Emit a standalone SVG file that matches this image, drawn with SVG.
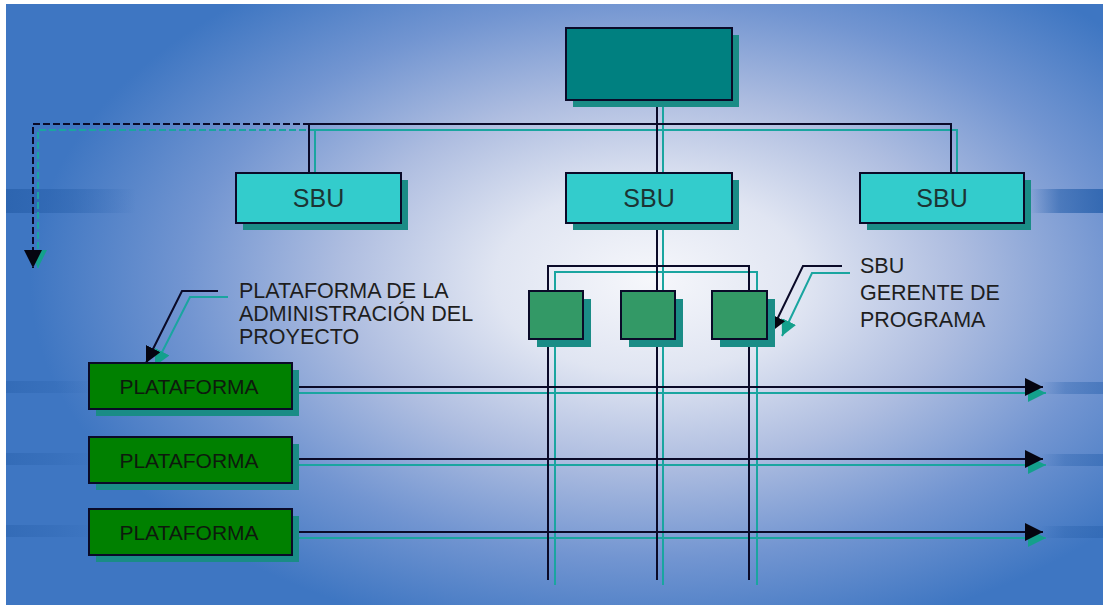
<svg xmlns="http://www.w3.org/2000/svg" width="1103" height="605" viewBox="0 0 1103 605">
  <defs>
    <radialGradient id="bg" cx="650" cy="280" r="620" gradientUnits="userSpaceOnUse" gradientTransform="translate(650 280) scale(1 0.6) translate(-650 -280)">
      <stop offset="0" stop-color="#f6f7fb"/>
      <stop offset="0.25" stop-color="#e0e5f2"/>
      <stop offset="0.5" stop-color="#aebde0"/>
      <stop offset="0.75" stop-color="#7295d1"/>
      <stop offset="1" stop-color="#3e76c2"/>
    </radialGradient>
    <linearGradient id="band" x1="0" y1="0" x2="1" y2="0">
      <stop offset="0" stop-color="#2a62ad" stop-opacity="0.85"/>
      <stop offset="0.5" stop-color="#2a62ad" stop-opacity="0.5"/>
      <stop offset="1" stop-color="#2a62ad" stop-opacity="0"/>
    </linearGradient>
    <linearGradient id="bandR" x1="1" y1="0" x2="0" y2="0">
      <stop offset="0" stop-color="#2a62ad" stop-opacity="0.85"/>
      <stop offset="0.6" stop-color="#2a62ad" stop-opacity="0.6"/>
      <stop offset="1" stop-color="#2a62ad" stop-opacity="0"/>
    </linearGradient>
    <marker id="ah" markerUnits="userSpaceOnUse" markerWidth="18" markerHeight="18" refX="18" refY="9" orient="auto">
      <path d="M0,0 L18,9 L0,18 z" fill="#050510"/>
    </marker>
    <marker id="ahs" markerUnits="userSpaceOnUse" markerWidth="18" markerHeight="18" refX="18" refY="9" orient="auto">
      <path d="M0,0 L18,9 L0,18 z" fill="#14a08c"/>
    </marker>
    <marker id="ahc" markerUnits="userSpaceOnUse" markerWidth="16" markerHeight="16" refX="16" refY="8" orient="auto">
      <path d="M0,0 L16,8 L0,16 z" fill="#050510"/>
    </marker>
    <marker id="ahcs" markerUnits="userSpaceOnUse" markerWidth="16" markerHeight="16" refX="16" refY="8" orient="auto">
      <path d="M0,0 L16,8 L0,16 z" fill="#14a08c"/>
    </marker>
  </defs>
  <style>
    .ln { fill: none; stroke: #0a0a28; stroke-width: 2; }
    .sh { fill: none; stroke: #1aa5a0; stroke-width: 2; }
    .dash { stroke-dasharray: 7 3; }
    .top { fill: #008080; stroke: #0a0a28; stroke-width: 2; }
    .sbu { fill: #33cccc; stroke: #0a0a28; stroke-width: 2; }
    .sm { fill: #339966; stroke: #0a0a28; stroke-width: 2; }
    .pl { fill: #008000; stroke: #0a0a28; stroke-width: 2; }
    .shd { fill: #1a8c86; }
    .t { font-family: "Liberation Sans", Arial, sans-serif; fill: #1e1e1e; }
    .tb { font-size: 25px; text-anchor: middle; fill: #1c3434; }
    .tp { font-size: 21px; text-anchor: middle; fill: #0d1a0d; }
    .tc { font-size: 21.5px; }
  </style>

  <rect x="0" y="0" width="1103" height="605" fill="#ffffff"/>
  <rect x="6" y="4" width="1097" height="601" fill="url(#bg)"/>
  <g id="bands">
    <rect x="6" y="189" width="130" height="24" fill="url(#band)"/>
    <rect x="1030" y="189" width="73" height="24" fill="url(#bandR)"/>
    <rect x="6" y="381" width="90" height="12" fill="url(#band)" opacity="0.6"/>
    <rect x="6" y="453" width="90" height="12" fill="url(#band)" opacity="0.6"/>
    <rect x="6" y="525" width="90" height="12" fill="url(#band)" opacity="0.6"/>
    <rect x="1040" y="382" width="63" height="12" fill="url(#bandR)" opacity="0.6"/>
    <rect x="1040" y="454" width="63" height="12" fill="url(#bandR)" opacity="0.6"/>
    <rect x="1040" y="526" width="63" height="12" fill="url(#bandR)" opacity="0.6"/>
  </g>

  <g id="connectors">
    <!-- shadows -->
    <polyline class="sh dash" points="316,130 38,130 38,268" marker-end="url(#ahs)"/>
    <polyline class="sh" points="315,180 315,130 957,130 957,180"/>
    <line class="sh" x1="663" y1="100" x2="663" y2="585"/>
    <polyline class="sh" points="555,295 555,272 757,272 757,295"/>
    <line class="sh" x1="555" y1="339" x2="555" y2="585"/>
    <line class="sh" x1="757" y1="339" x2="757" y2="585"/>
    <line class="sh" x1="298" y1="393" x2="1046" y2="393" marker-end="url(#ahs)"/>
    <line class="sh" x1="298" y1="465" x2="1046" y2="465" marker-end="url(#ahs)"/>
    <line class="sh" x1="298" y1="538" x2="1046" y2="538" marker-end="url(#ahs)"/>
    <polyline class="sh" points="228,297 190,297 155,366" marker-end="url(#ahcs)"/>
    <polyline class="sh" points="850,273 812,273 782,336" marker-end="url(#ahcs)"/>
    <!-- main lines -->
    <polyline class="ln dash" points="310,124 33,124 33,268" marker-end="url(#ah)"/>
    <polyline class="ln" points="309,173 309,124 951,124 951,173"/>
    <line class="ln" x1="657" y1="100" x2="657" y2="580"/>
    <polyline class="ln" points="548,291 548,266 749,266 749,291"/>
    <line class="ln" x1="548" y1="339" x2="548" y2="580"/>
    <line class="ln" x1="749" y1="339" x2="749" y2="580"/>
    <line class="ln" x1="292" y1="387" x2="1043" y2="387" marker-end="url(#ah)"/>
    <line class="ln" x1="292" y1="459" x2="1043" y2="459" marker-end="url(#ah)"/>
    <line class="ln" x1="292" y1="532" x2="1043" y2="532" marker-end="url(#ah)"/>
    <polyline class="ln" points="218,291 182,291 146,363" marker-end="url(#ahc)"/>
    <polyline class="ln" points="842,266 803,266 771,332" marker-end="url(#ahc)"/>
  </g>

  <g id="top-node">
    <rect class="shd" x="573" y="35" width="166" height="72"/>
    <rect class="top" x="566" y="28" width="166" height="72"/>
  </g>

  <g id="sbu-left">
    <rect class="shd" x="243" y="180" width="165" height="50"/>
    <rect class="sbu" x="236" y="173" width="165" height="50"/>
    <text class="t tb" x="318.5" y="207">SBU</text>
  </g>
  <g id="sbu-center">
    <rect class="shd" x="573" y="180" width="166" height="50"/>
    <rect class="sbu" x="566" y="173" width="166" height="50"/>
    <text class="t tb" x="649" y="207">SBU</text>
  </g>
  <g id="sbu-right">
    <rect class="shd" x="867" y="180" width="164" height="50"/>
    <rect class="sbu" x="860" y="173" width="164" height="50"/>
    <text class="t tb" x="942" y="207">SBU</text>
  </g>

  <g id="program-1">
    <rect class="shd" x="537" y="299" width="54" height="48"/>
    <rect class="sm" x="529" y="291" width="54" height="48"/>
  </g>
  <g id="program-2">
    <rect class="shd" x="629" y="299" width="54" height="48"/>
    <rect class="sm" x="621" y="291" width="54" height="48"/>
  </g>
  <g id="program-3">
    <rect class="shd" x="720" y="299" width="55" height="48"/>
    <rect class="sm" x="712" y="291" width="55" height="48"/>
  </g>

  <g id="plataforma-1">
    <rect class="shd" x="96" y="370" width="203" height="46"/>
    <rect class="pl" x="89" y="363" width="203" height="46"/>
    <text class="t tp" x="189" y="394">PLATAFORMA</text>
  </g>
  <g id="plataforma-2">
    <rect class="shd" x="96" y="444" width="203" height="46"/>
    <rect class="pl" x="89" y="437" width="203" height="46"/>
    <text class="t tp" x="189" y="468">PLATAFORMA</text>
  </g>
  <g id="plataforma-3">
    <rect class="shd" x="96" y="516" width="203" height="46"/>
    <rect class="pl" x="89" y="509" width="203" height="46"/>
    <text class="t tp" x="189" y="540">PLATAFORMA</text>
  </g>

  <g id="label-plataforma">
    <text class="t tc" x="239" y="298">PLATAFORMA DE LA</text>
    <text class="t tc" x="239" y="321">ADMINISTRACIÓN DEL</text>
    <text class="t tc" x="239" y="344">PROYECTO</text>
  </g>
  <g id="label-sbu">
    <text class="t tc" x="860" y="273">SBU</text>
    <text class="t tc" x="860" y="300">GERENTE DE</text>
    <text class="t tc" x="860" y="327">PROGRAMA</text>
  </g>
</svg>
